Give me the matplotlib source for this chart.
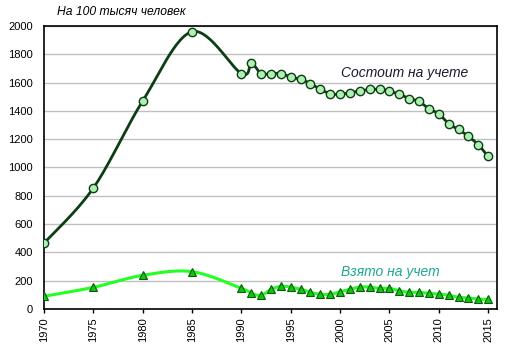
import numpy as np
import matplotlib
matplotlib.use("Agg")
import matplotlib.pyplot as plt

years = [1970, 1975, 1980, 1985, 1990, 1991, 1992, 1993, 1994, 1995, 1996, 1997,
         1998, 1999, 2000, 2001, 2002, 2003, 2004, 2005, 2006, 2007, 2008, 2009,
         2010, 2011, 2012, 2013, 2014, 2015]
registered = [465, 855, 1470, 1960, 1664, 1735, 1664, 1664, 1664, 1640, 1623, 1593,
              1552, 1522, 1517, 1529, 1540, 1552, 1552, 1540, 1517, 1487, 1467, 1415,
              1380, 1309, 1269, 1220, 1161, 1078]
taken = [90, 153, 238, 264, 146, 111, 97, 139, 160, 155, 139, 118,
         104, 104, 122, 139, 155, 155, 146, 146, 129, 118, 118, 111,
         106, 97, 83, 78, 70, 68]
xticks = list(range(1970, 2016, 5))
yticks = list(range(0, 2001, 200))


def smooth(x, y, n=30):
    x = np.asarray(x, float)
    y = np.asarray(y, float)
    px = np.concatenate([[x[0]], x, [x[-1]]])
    py = np.concatenate([[y[0]], y, [y[-1]]])
    ox, oy = [], []
    t = np.linspace(0, 1, n)
    for i in range(1, len(px) - 2):
        p0 = np.array([px[i], py[i]])
        p3 = np.array([px[i + 1], py[i + 1]])
        c1 = p0 + (np.array([px[i + 1], py[i + 1]]) - np.array([px[i - 1], py[i - 1]])) / 6
        c2 = p3 - (np.array([px[i + 2], py[i + 2]]) - np.array([px[i], py[i]])) / 6
        b = ((1 - t) ** 3)[:, None] * p0 + (3 * (1 - t) ** 2 * t)[:, None] * c1 \
            + (3 * (1 - t) * t ** 2)[:, None] * c2 + (t ** 3)[:, None] * p3
        ox.extend(b[:, 0])
        oy.extend(b[:, 1])
    return np.array(ox), np.array(oy)


plt.rcParams['font.family'] = ['Liberation Sans', 'DejaVu Sans']
fig = plt.figure(figsize=(5.11, 3.56), dpi=100)
ax = fig.add_axes([44 / 511, 1 - 309 / 356, (497 - 44) / 511, (309 - 26) / 356])

sx, sy = smooth(years, registered)
ax.plot(sx, sy, color='#0d3d12', lw=2, zorder=3)
ax.plot(years, registered, ls='none', marker='o', ms=6, mfc='#aef0b4', mec='#0d3d12',
        mew=1, zorder=4)

tx, ty = smooth(years, taken)
ax.plot(tx, ty, color='#22ff22', lw=2.2, zorder=3)
ax.plot(years, taken, ls='none', marker='^', ms=5.5, mfc='#11c411', mec='#0a5a0a',
        mew=0.8, zorder=4)

ax.set_xlim(1970, 2015.9)
ax.set_ylim(0, 2000)
ax.set_xticks(xticks)
ax.set_yticks(yticks)
ax.set_xticklabels([str(v) for v in xticks], rotation=90, fontsize=8)
ax.set_yticklabels([str(v) for v in yticks], fontsize=8)
ax.tick_params(axis='x', length=3, width=1, direction='out', pad=3)
ax.tick_params(axis='y', length=0, pad=8)
ax.grid(axis='y', color='#c0c0c0', lw=1)
ax.set_axisbelow(True)
for s in ax.spines.values():
    s.set_color('black')
    s.set_linewidth(1.2)

ax.text(2006.5, 1665, 'Состоит на учете', fontsize=10, style='italic', color='#1a1a2e',
        ha='center', va='center')
ax.text(2005.1, 265, 'Взято на учет', fontsize=10, style='italic', color='#1aa890',
        ha='center', va='center')
fig.text(57 / 511, 1 - 12 / 356, 'На 100 тысяч человек', fontsize=8.7, style='italic',
         color='black', ha='left', va='center')

fig.savefig('out.png', dpi=100)
